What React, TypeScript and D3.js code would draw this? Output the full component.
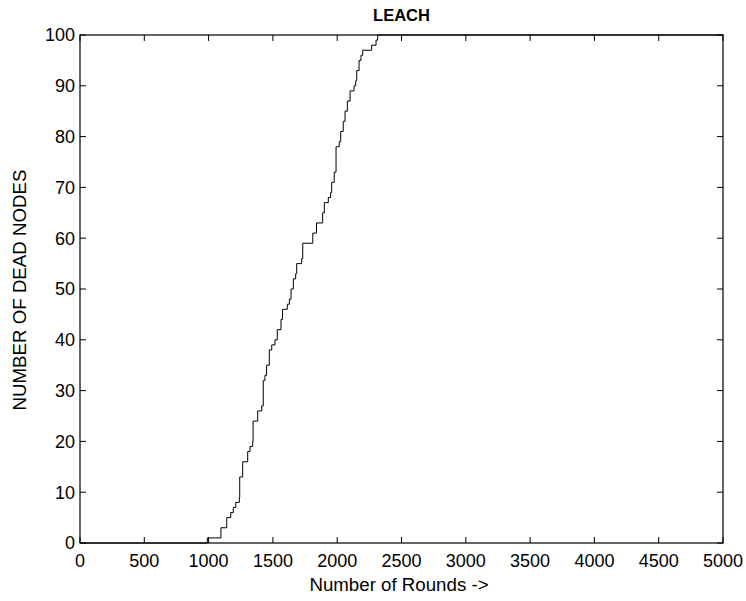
import React from "react";
import * as d3 from "d3";

const title = "LEACH";
const xLabel = "Number of Rounds ->";
const yLabel = "NUMBER OF DEAD NODES";
const xTicks = [0, 500, 1000, 1500, 2000, 2500, 3000, 3500, 4000, 4500, 5000];
const yTicks = [0, 10, 20, 30, 40, 50, 60, 70, 80, 90, 100];

// round at which the dead-node count changes, and the new count
const rounds = [0, 990, 1096, 1141, 1172, 1192, 1211, 1239, 1242, 1265, 1304, 1322, 1343, 1346, 1382, 1413, 1425, 1438, 1451, 1472, 1491, 1516, 1534, 1563, 1575, 1612, 1628, 1641, 1659, 1677, 1685, 1724, 1732, 1810, 1839, 1887, 1900, 1931, 1949, 1957, 1977, 1991, 2016, 2027, 2047, 2061, 2079, 2100, 2131, 2144, 2152, 2170, 2185, 2198, 2268, 2302, 2315, 5000];
const deadNodes = [0, 1, 3, 5, 6, 7, 8, 9, 13, 16, 18, 19, 20, 24, 26, 27, 32, 33, 35, 38, 39, 40, 42, 44, 46, 47, 48, 50, 52, 53, 55, 56, 59, 61, 63, 65, 67, 68, 69, 71, 73, 78, 79, 81, 83, 85, 87, 89, 90, 91, 93, 95, 96, 97, 98, 99, 100, 100];

const W = 746;
const H = 601;
const m = { left: 80, right: 723, top: 35, bottom: 543 };
const FONT = "Arial, 'Liberation Sans', sans-serif";

export default function App() {
  const x = d3.scaleLinear().domain([0, 5000]).range([m.left, m.right]);
  const y = d3.scaleLinear().domain([0, 100]).range([m.bottom, m.top]);
  const pts: [number, number][] = rounds.map((r, i) => [r, deadNodes[i]]);
  const line = d3
    .line<[number, number]>()
    .x((d) => x(d[0]))
    .y((d) => y(d[1]))
    .curve(d3.curveStepAfter);
  const tl = 6;
  return (
    <svg width={W} height={H} style={{ position: "absolute", left: 0, top: 0, background: "#fff" }}>
      <rect x={0} y={0} width={W} height={H} fill="#fff" />
      <path d={line(pts) || ""} fill="none" stroke="#000" strokeWidth={1} />
      <rect x={m.left} y={m.top} width={m.right - m.left} height={m.bottom - m.top} fill="none" stroke="#000" strokeWidth={1.2} />
      {xTicks.map((t) => (
        <g key={"x" + t}>
          <line x1={x(t)} x2={x(t)} y1={m.bottom} y2={m.bottom - tl} stroke="#000" />
          <line x1={x(t)} x2={x(t)} y1={m.top} y2={m.top + tl} stroke="#000" />
          <text x={x(t)} y={567} textAnchor="middle" fontFamily={FONT} fontSize={18} fill="#000">
            {t}
          </text>
        </g>
      ))}
      {yTicks.map((t) => (
        <g key={"y" + t}>
          <line x1={m.left} x2={m.left + tl} y1={y(t)} y2={y(t)} stroke="#000" />
          <line x1={m.right} x2={m.right - tl} y1={y(t)} y2={y(t)} stroke="#000" />
          <text x={75} y={y(t)} dy="0.35em" textAnchor="end" fontFamily={FONT} fontSize={18} fill="#000">
            {t}
          </text>
        </g>
      ))}
      <text x={(m.left + m.right) / 2} y={21} textAnchor="middle" fontFamily={FONT} fontSize={16.5} fontWeight="bold" fill="#000">
        {title}
      </text>
      <text x={399} y={591} textAnchor="middle" fontFamily={FONT} fontSize={18.7} fill="#000">
        {xLabel}
      </text>
      <text transform={`translate(26,290) rotate(-90)`} textAnchor="middle" fontFamily={FONT} fontSize={18.7} fill="#000">
        {yLabel}
      </text>
    </svg>
  );
}
